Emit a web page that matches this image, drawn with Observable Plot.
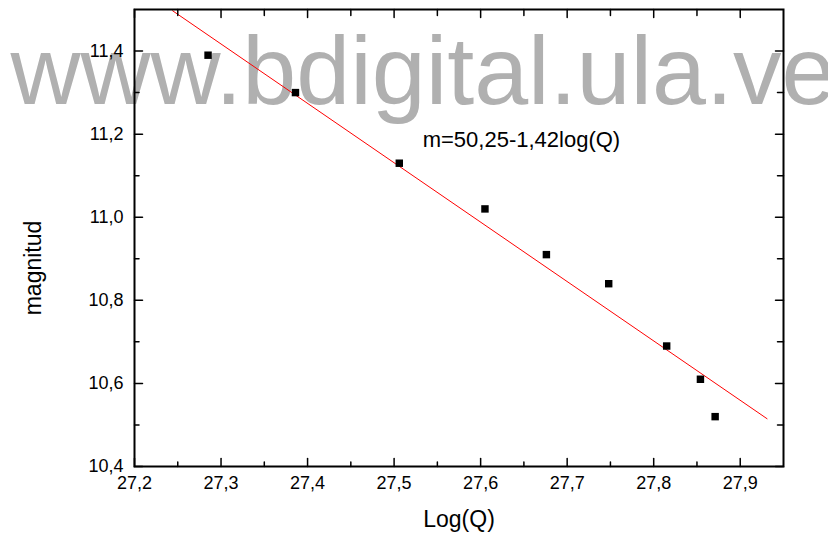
<!DOCTYPE html>
<html>
<head>
<meta charset="utf-8">
<script src="https://cdn.jsdelivr.net/npm/d3@7"></script>
<script src="https://cdn.jsdelivr.net/npm/@observablehq/plot@0.6"></script>
<style>
  body { margin: 0; background: #fff; }
  #chart svg { font-family: "Liberation Sans", Arial, sans-serif; }
</style>
</head>
<body>
<div id="chart"></div>
<script>
// Data
const logQ = [27.285, 27.386, 27.506, 27.605, 27.676, 27.748, 27.815, 27.854, 27.871];
const magnitud = [11.39, 11.30, 11.13, 11.02, 10.91, 10.84, 10.69, 10.61, 10.52];
// Fitted line endpoints as drawn
const fitX = [27.244, 27.931];
const fitY = [11.497, 10.515];
// Ticks
const xMajor = [27.2, 27.3, 27.4, 27.5, 27.6, 27.7, 27.8, 27.9];
const xMinor = [27.25, 27.35, 27.45, 27.55, 27.65, 27.75, 27.85];
const yMajor = [10.4, 10.6, 10.8, 11.0, 11.2, 11.4];
const yMinor = [10.5, 10.7, 10.9, 11.1, 11.3];
const annotation = {x: 27.533, y: 11.185, text: "m=50,25-1,42log(Q)"};
const watermark = "www.bdigital.ula.ve";

const points = logQ.map((x, i) => ({x, y: magnitud[i]}));
const fit = fitX.map((x, i) => ({x, y: fitY[i]}));
const fmt = d => d.toFixed(1).replace(".", ",");

// straight tick shape for vectors (drawn from anchor point along its direction)
const tickShape = {draw(context, l) { context.moveTo(0, 0); context.lineTo(0, -l); }};
const tickX = (data, anchor, len) => Plot.vector(data, {
  x: d => d, frameAnchor: anchor, length: len, rotate: anchor === "bottom" ? 0 : 180,
  anchor: "start", shape: tickShape, stroke: "#000", strokeWidth: 1.5
});
const tickY = (data, anchor, len) => Plot.vector(data, {
  y: d => d, frameAnchor: anchor, length: len, rotate: anchor === "left" ? 90 : -90,
  anchor: "start", shape: tickShape, stroke: "#000", strokeWidth: 1.5
});

const chart = Plot.plot({
  width: 828,
  height: 533,
  marginLeft: 134,
  marginRight: 45,
  marginTop: 9,
  marginBottom: 67,
  style: {background: "transparent", fontFamily: "Liberation Sans, Arial, sans-serif", color: "#000"},
  x: {domain: [27.2, 27.95]},
  y: {domain: [10.4, 11.5]},
  marks: [
    Plot.text([watermark], {frameAnchor: "top-left", textAnchor: "start", lineAnchor: "bottom",
      dx: -124, dy: 94.5, fontSize: 97, fill: "#b0b0b0"}),
    Plot.line(fit, {x: "x", y: "y", stroke: "#ff0000", strokeWidth: 1}),
    Plot.dot(points, {x: "x", y: "y", symbol: "square", r: 4.2, fill: "#000", stroke: "none"}),
    Plot.text([annotation], {x: "x", y: "y", text: "text", textAnchor: "start", lineAnchor: "middle", fontSize: 22, fill: "#000"}),
    // inward ticks
    tickX(xMajor, "bottom", 8),
    tickX(xMinor, "bottom", 4.5),
    tickX(xMajor, "top", 8),
    tickX(xMinor, "top", 6),
    tickY(yMajor, "left", 8),
    tickY(yMinor, "left", 4.5),
    tickY(yMajor, "right", 8),
    tickY(yMinor, "right", 6),
    // tick labels
    Plot.axisX(xMajor, {anchor: "bottom", tickSize: 0, tickPadding: 10, tickFormat: fmt, fontSize: 18, label: null}),
    Plot.axisY(yMajor, {anchor: "left", tickSize: 0, tickPadding: 11, tickFormat: fmt, fontSize: 18, label: null}),
    // axis titles
    Plot.text(["Log(Q)"], {frameAnchor: "bottom", textAnchor: "middle", lineAnchor: "bottom", dy: 60, fontSize: 23, fill: "#000"}),
    Plot.text(["magnitud"], {frameAnchor: "left", textAnchor: "middle", rotate: -90, lineAnchor: "middle", dx: -101, dy: 30, fontSize: 23, fill: "#000"}),
    Plot.frame({stroke: "#000", strokeWidth: 2})
  ]
});
document.getElementById("chart").append(chart);
</script>
</body>
</html>
